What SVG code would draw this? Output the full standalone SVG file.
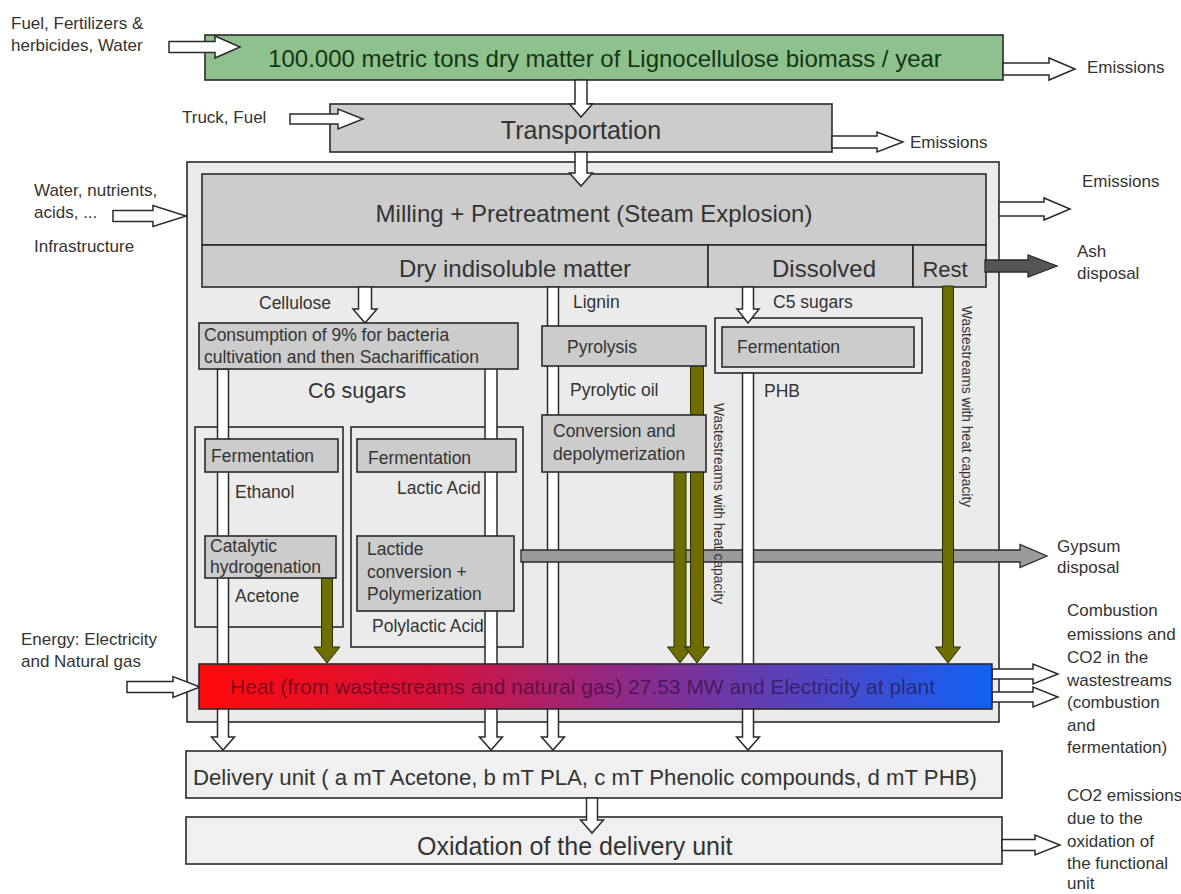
<svg xmlns="http://www.w3.org/2000/svg" width="1181" height="894" viewBox="0 0 1181 894">
<defs>
<linearGradient id="heatGrad" x1="0" y1="0" x2="1" y2="0">
<stop offset="0" stop-color="#ff0a0a"/>
<stop offset="0.3" stop-color="#d4123c"/>
<stop offset="0.55" stop-color="#8b2b8c"/>
<stop offset="0.8" stop-color="#4a48c8"/>
<stop offset="1" stop-color="#1060f5"/>
</linearGradient>
<style>
text{font-family:"Liberation Sans",Arial,sans-serif;fill:#333}
.big{font-size:24px}
.sm{font-size:17.5px}
.lbl{font-size:17px}
.vt{font-size:13.8px}
.box{stroke:#2a2a2a;stroke-width:1.6}
.g1{fill:#cccccc}
.g2{fill:#ebebeb}
.g3{fill:#f0f0f0}
.wa{fill:#ffffff;stroke:#2a2a2a;stroke-width:1.5;stroke-linejoin:miter}
.oa{fill:#6e6e00;stroke:#2a2a00;stroke-width:1}
</style>
</defs>
<rect width="1181" height="894" fill="#ffffff"/>

<g id="biomass">
<rect class="box" x="205" y="35" width="798" height="45" fill="#8fc18f"/>
<text class="big" x="605" y="67" text-anchor="middle" style="fill:#153515">100.000 metric tons dry matter of Lignocellulose biomass / year</text>
</g>
<g id="transportation">
<rect class="box g1" x="330" y="104" width="502" height="48"/>
<text x="581" y="139" text-anchor="middle" style="font-size:25px">Transportation</text>
</g>
<g id="plant">
<rect class="box g2" x="187" y="162" width="812" height="560"/>
</g>
<g id="milling">
<rect class="box g1" x="202" y="174" width="784" height="71"/>
<text class="big" x="594" y="222" text-anchor="middle">Milling + Pretreatment (Steam Explosion)</text>
</g>
<g id="dry">
<rect class="box g1" x="202" y="245" width="506" height="42"/>
<text class="big" x="515" y="277" text-anchor="middle">Dry indisoluble matter</text>
</g>
<g id="dissolved">
<rect class="box g1" x="708" y="245" width="205" height="42"/>
<text class="big" x="824" y="277" text-anchor="middle">Dissolved</text>
</g>
<g id="rest">
<rect class="box g1" x="913" y="245" width="73" height="42"/>
<text x="945" y="277" text-anchor="middle" style="font-size:22px">Rest</text>
</g>
<g id="ethanol-group">
<rect class="box" x="195" y="427" width="148" height="200" fill="none"/>
</g>
<g id="lactic-group">
<rect class="box" x="351" y="427" width="172" height="220" fill="none"/>
</g>
<g id="fermentation-c5">
<rect class="box g2" x="715" y="318" width="207" height="55"/>
<rect class="box g1" x="722" y="327" width="192" height="40"/>
<text class="sm" x="737" y="353">Fermentation</text>
</g>
<g id="delivery">
<rect class="box g3" x="186" y="751" width="816" height="47"/>
<text x="193" y="785" style="font-size:22.2px">Delivery unit ( a mT Acetone, b mT PLA, c mT Phenolic compounds, d mT PHB)</text>
</g>
<g id="oxidation">
<rect class="box g3" x="186" y="817" width="816" height="47"/>
<text x="417" y="855" style="font-size:25px">Oxidation of the delivery unit</text>
</g>

<g id="connectors">
<path class="wa" d="M217.5 369 V737 H211.5 L223 750 L234.5 737 H228.5 V369 Z"/>
<path class="wa" d="M485 367 V737 H479.5 L491 750 L502.5 737 H497 V367 Z"/>
<path class="wa" d="M547.5 287 V737 H541.5 L553 750 L564.5 737 H558.5 V287 Z"/>
<path d="M521 550 H1020 V544.5 L1047 556 L1020 567.5 V562 H521 Z" fill="#9a9a9a" stroke="#2a2a2a" stroke-width="1.3"/>
<path class="wa" d="M742.5 373 V737 H736.5 L748 750 L759.5 737 H753.5 V373 Z"/>
<path class="oa" d="M321.5 578 V647 H314 L327 663 L340 647 H332.5 V578 Z"/>
<path class="oa" d="M674 471 V647 H667.5 L680 663 L692.5 647 H686 V471 Z"/>
<path class="oa" d="M690.5 365 V647 H684.5 L697 663 L709.5 647 H703.5 V365 Z"/>
<path class="oa" d="M942.5 286 V647 H935.5 L948 663 L960.5 647 H953.5 V286 Z"/>
<path class="wa" d="M169 41.5 H215 V36 L240 47 L215 58 V52.5 H169 Z"/>
<path class="wa" d="M1003 63 H1049 V58 L1075 69 L1049 80 V75 H1003 Z"/>
<path class="wa" d="M290 114 H338 V109 L363 119 L338 129 V124 H290 Z"/>
<path class="wa" d="M832 136 H877 V132 L903 142 L877 152 V148 H832 Z"/>
<path class="wa" d="M999 202 H1044 V198 L1070 209 L1044 220 V216 H999 Z"/>
<path class="wa" d="M113 210.5 H153 V205.5 L186 216 L153 226.5 V221.5 H113 Z"/>
<path d="M985 260 H1028 V255 L1057 266 L1028 277 V272 H985 Z" fill="#555555" stroke="#2a2a2a" stroke-width="1.3"/>
<path class="wa" d="M127 681.5 H173 V676.5 L200 687 L173 697.5 V692.5 H127 Z"/>
<path class="wa" d="M992 669 H1033 V664 L1058 674 L1033 684 V679 H992 Z"/>
<path class="wa" d="M992 692 H1033 V687 L1058 697 L1033 707 V702 H992 Z"/>
<path class="wa" d="M1002 839.5 H1035 V835 L1060 845 L1035 855 V850.5 H1002 Z"/>
<path class="wa" d="M575 80 V104 H569.5 L581 117 L592.5 104 H587 V80 Z"/>
<path class="wa" d="M575 152 V173 H569.5 L581 186 L592.5 173 H587 V152 Z"/>
<path class="wa" d="M358.5 287 V309 H353 L365 323 L377 309 H371.5 V287 Z"/>
<path class="wa" d="M742.5 287 V309 H737 L748 323 L759 309 H753.5 V287 Z"/>
<path class="wa" d="M586.5 798 V820 H580.5 L592 833 L603.5 820 H597.5 V798 Z"/>
<text class="vt" transform="translate(714,403) rotate(90)">Wastestreams with heat capacity</text>
<text class="vt" transform="translate(962,306) rotate(90)">Wastestreams with heat capacity</text>
</g>

<g id="consumption">
<rect class="box g1" x="199" y="323" width="319" height="46"/>
<text class="sm" x="204" y="341">Consumption of 9% for bacteria</text>
<text class="sm" x="204" y="363">cultivation and then Sachariffication</text>
</g>
<g id="fermentation-ethanol">
<rect class="box g1" x="205" y="439" width="133" height="33"/>
<text class="sm" x="211" y="462">Fermentation</text>
</g>
<g id="catalytic">
<rect class="box g1" x="205" y="536" width="131" height="42"/>
<text class="sm" x="210" y="552">Catalytic</text>
<text class="sm" x="210" y="573">hydrogenation</text>
</g>
<g id="fermentation-lactic">
<rect class="box g1" x="357" y="439" width="159" height="33"/>
<text class="sm" x="368" y="464">Fermentation</text>
</g>
<g id="lactide">
<rect class="box g1" x="357" y="536" width="157" height="75"/>
<text class="sm" x="367" y="555">Lactide</text>
<text class="sm" x="367" y="578">conversion +</text>
<text class="sm" x="367" y="600">Polymerization</text>
</g>
<g id="pyrolysis">
<rect class="box g1" x="542" y="326" width="164" height="40"/>
<text class="sm" x="567" y="353">Pyrolysis</text>
</g>
<g id="conversion">
<rect class="box g1" x="542" y="415" width="164" height="57"/>
<text class="sm" x="553" y="437">Conversion and</text>
<text class="sm" x="553" y="460">depolymerization</text>
</g>
<g id="heat">
<rect class="box" x="199" y="664" width="793" height="45" fill="url(#heatGrad)"/>
<text x="230" y="694" style="font-size:21px;fill:#200020;fill-opacity:0.55">Heat (from wastestreams and natural gas) 27.53 MW and Electricity at plant</text>
</g>

<g id="labels">
<text class="sm" x="259" y="309">Cellulose</text>
<text class="sm" x="573" y="308">Lignin</text>
<text class="sm" x="773" y="308">C5 sugars</text>
<text x="308" y="398" style="font-size:21.5px">C6 sugars</text>
<text class="sm" x="235" y="498">Ethanol</text>
<text class="sm" x="235" y="602">Acetone</text>
<text class="sm" x="397" y="494">Lactic Acid</text>
<text class="sm" x="372" y="632">Polylactic Acid</text>
<text class="sm" x="570" y="396">Pyrolytic oil</text>
<text class="sm" x="764" y="397">PHB</text>

<text class="lbl" x="11" y="29">Fuel, Fertilizers &amp;</text>
<text class="lbl" x="11" y="51">herbicides, Water</text>
<text class="lbl" x="182" y="123">Truck, Fuel</text>
<text class="lbl" x="34" y="196">Water, nutrients,</text>
<text class="lbl" x="34" y="218">acids, ...</text>
<text class="lbl" x="34" y="252">Infrastructure</text>
<text class="lbl" x="21" y="645">Energy: Electricity</text>
<text class="lbl" x="21" y="667">and Natural gas</text>

<text class="lbl" x="1087" y="73">Emissions</text>
<text class="lbl" x="910" y="148">Emissions</text>
<text class="lbl" x="1082" y="187">Emissions</text>
<text class="lbl" x="1077" y="257">Ash</text>
<text class="lbl" x="1077" y="279">disposal</text>
<text class="lbl" x="1057" y="552">Gypsum</text>
<text class="lbl" x="1057" y="573">disposal</text>
<text class="lbl" x="1067" y="616">Combustion</text>
<text class="lbl" x="1067" y="640">emissions and</text>
<text class="lbl" x="1067" y="663">CO2 in the</text>
<text class="lbl" x="1067" y="686">wastestreams</text>
<text class="lbl" x="1067" y="708">(combustion</text>
<text class="lbl" x="1067" y="731">and</text>
<text class="lbl" x="1067" y="753">fermentation)</text>
<text class="lbl" x="1067" y="801">CO2 emissions</text>
<text class="lbl" x="1067" y="824">due to the</text>
<text class="lbl" x="1067" y="847">oxidation of</text>
<text class="lbl" x="1067" y="869">the functional</text>
<text class="lbl" x="1067" y="889">unit</text>
</g>
</svg>
